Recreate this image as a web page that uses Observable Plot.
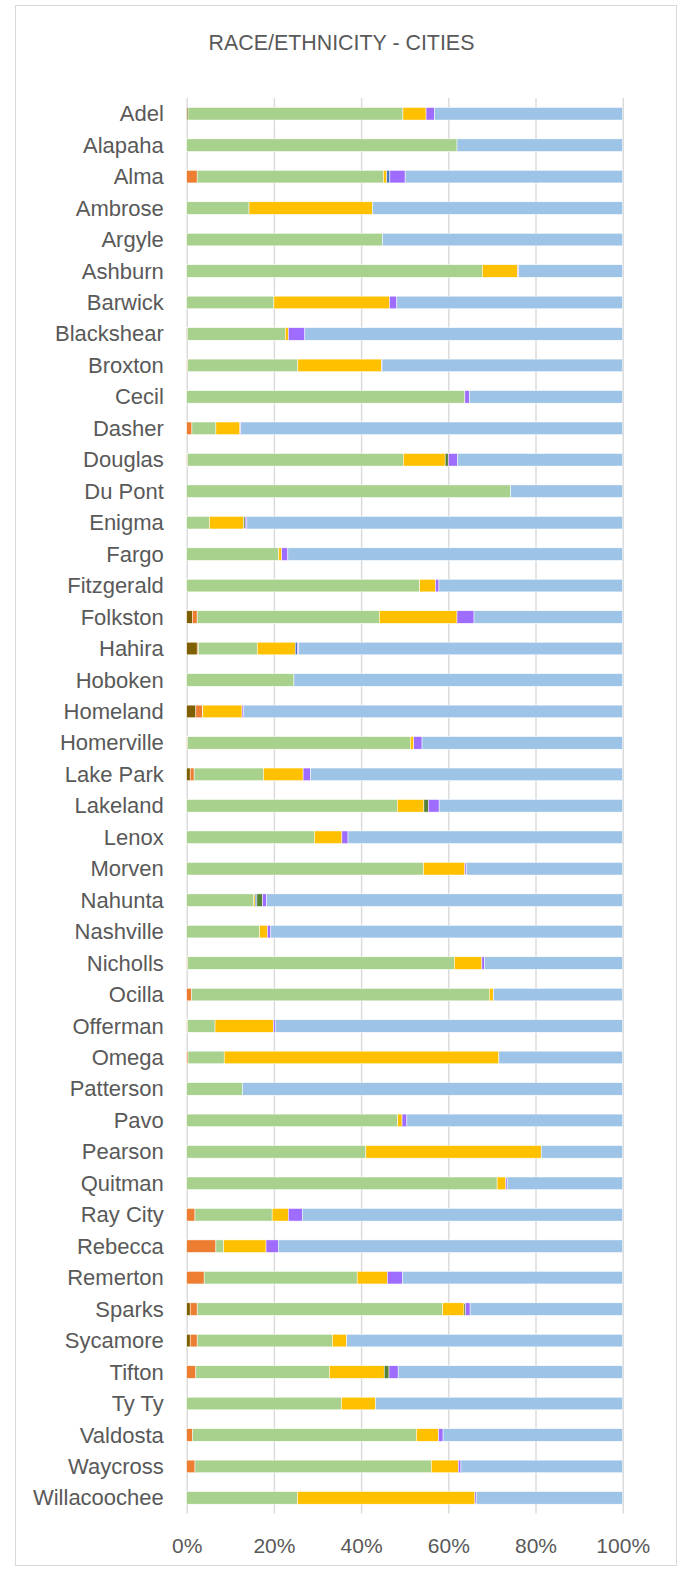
<!DOCTYPE html>
<html>
<head>
<meta charset="utf-8">
<script src="https://cdn.jsdelivr.net/npm/d3@7"></script>
<script src="https://cdn.jsdelivr.net/npm/@observablehq/plot@0.6"></script>
<style>
  html, body { margin: 0; padding: 0; background: #fff; }
  #wrap { position: relative; width: 683px; height: 1570px; font-family: "Liberation Sans", Arial, sans-serif; color: #595959; }
  #frame { position: absolute; left: 15px; top: 5px; width: 662px; height: 1561px; border: 1px solid #D9D9D9; box-sizing: border-box; pointer-events: none; }
  #title { height: 80px; box-sizing: border-box; padding-top: 31.6px; text-align: center; font-size: 21.4px; line-height: 22px; color: #595959; }
  #chart svg { display: block; }
</style>
</head>
<body>
<div id="wrap">
  <div id="frame"></div>
  <div id="title">RACE/ETHNICITY - CITIES</div>
  <div id="chart"></div>
</div>
<script>
const cities = ["Adel","Alapaha","Alma","Ambrose","Argyle","Ashburn","Barwick","Blackshear","Broxton","Cecil","Dasher","Douglas","Du Pont","Enigma","Fargo","Fitzgerald","Folkston","Hahira","Hoboken","Homeland","Homerville","Lake Park","Lakeland","Lenox","Morven","Nahunta","Nashville","Nicholls","Ocilla","Offerman","Omega","Patterson","Pavo","Pearson","Quitman","Ray City","Rebecca","Remerton","Sparks","Sycamore","Tifton","Ty Ty","Valdosta","Waycross","Willacoochee"];

const series = ["American Indian","Asian","Black","Hispanic","Pacific Islander","Other","Two or More","White"];
const colors = ["#7F6000","#ED7D31","#A9D18E","#FFC000","#4472C4","#548235","#9E6CFF","#9DC3E6"];

const americanIndian = [0.3,0,0,0,0,0,0,0.2,0,0,0,0,0,0,0,0,1.3,2.4,0,2.1,0,0.8,0,0,0,0,0,0,0,0,0,0,0,0,0,0,0,0,0.8,0.8,0,0,0,0,0];
const asian          = [0,0,2.4,0,0,0,0,0,0.2,0,1.2,0.15,0,0,0,0,1.1,0.25,0,1.5,0.15,0.9,0,0,0,0,0,0.2,1.1,0.2,0.3,0,0,0,0,1.9,6.7,4.0,1.6,1.6,2.1,0,1.3,1.9,0];
const black          = [49.3,62.0,42.7,14.3,44.9,67.8,20.0,22.4,25.3,63.8,5.5,49.5,74.3,5.2,21.1,53.4,41.8,13.5,24.6,0.1,51.1,15.9,48.3,29.3,54.3,15.4,16.7,61.2,68.3,6.3,8.3,12.8,48.4,41.1,71.2,17.7,1.8,35.1,56.3,31.0,30.6,35.5,51.4,54.2,25.4];
const hispanic       = [5.3,0,0.8,28.3,0,8.1,26.5,0.7,19.2,0,5.5,9.6,0,7.9,0.7,3.6,17.8,8.7,0,9.0,0.8,9.1,6.1,6.3,9.5,0.3,1.8,6.3,0.9,13.4,63.0,0,1.0,40.2,2.0,3.7,9.7,6.9,4.9,3.3,12.6,7.8,5.0,6.2,40.7];
const pacific        = [0,0,0.7,0,0,0,0,0,0,0,0,0,0,0,0,0,0,0.5,0,0,0,0,0,0,0,0.4,0,0,0,0,0,0,0,0,0,0,0,0,0,0,0,0,0.1,0,0];
const other          = [0,0,0,0,0,0,0,0,0,0,0,0.7,0,0.3,0,0,0,0,0,0,0,0,1.0,0,0,1.3,0,0,0,0,0,0,0,0,0,0,0,0,0.3,0,1.1,0,0,0,0];
const twoOrMore      = [1.9,0,3.5,0,0,0.2,1.7,3.8,0.1,1.0,0.2,2.1,0,0.4,1.4,0.8,3.9,0.3,0,0.4,1.9,1.7,2.5,1.4,0.3,0.9,0.8,0.6,0.1,0.4,0,0,1.1,0,0.3,3.2,2.8,3.5,1.1,0,2.1,0,1.0,0.6,0.3];
const white          = [43.2,38.0,49.9,57.4,55.1,23.9,51.8,72.9,55.2,35.2,87.6,37.9,25.7,86.2,76.8,42.1,34.1,74.2,75.4,86.9,46.0,71.6,42.1,63.0,35.9,81.7,80.7,31.7,29.6,79.7,28.4,87.2,49.5,18.7,26.5,73.5,79.0,50.5,35.0,63.3,51.5,56.7,41.2,37.1,33.6];

const xTicks = [0, 0.2, 0.4, 0.6, 0.8, 1];

const columns = [americanIndian, asian, black, hispanic, pacific, other, twoOrMore, white];
const data = [];
cities.forEach((c, i) => {
  series.forEach((s, j) => {
    data.push({city: c, race: s, value: columns[j][i]});
  });
});

const chart = Plot.plot({
  width: 683,
  height: 1490,
  marginTop: 18,
  marginBottom: 56.4,
  marginLeft: 186.7,
  marginRight: 60.3,
  style: {fontFamily: "'Liberation Sans', Arial, sans-serif", fontSize: "22px", color: "#595959", background: "transparent"},
  x: {domain: [0, 1]},
  y: {domain: cities, paddingInner: 0.6, paddingOuter: 0.3, align: 0.5, round: false},
  color: {domain: series, range: colors},
  marks: [
    Plot.gridX(xTicks, {stroke: "#D9D9D9", strokeOpacity: 1, strokeWidth: 1.4}),
    Plot.barX(data, Plot.stackX({x: "value", y: "city", fill: "race", z: "race", offset: "normalize", order: series, stroke: "white", strokeWidth: 0.5})),
    Plot.axisY({tickSize: 0, tickPadding: 23.4, fontSize: 22, label: null}),
    Plot.axisX(xTicks, {tickSize: 0, tickPadding: 23.7, fontSize: 21, tickFormat: d3.format(".0%"), label: null})
  ]
});
document.getElementById("chart").appendChild(chart);
</script>
</body>
</html>
